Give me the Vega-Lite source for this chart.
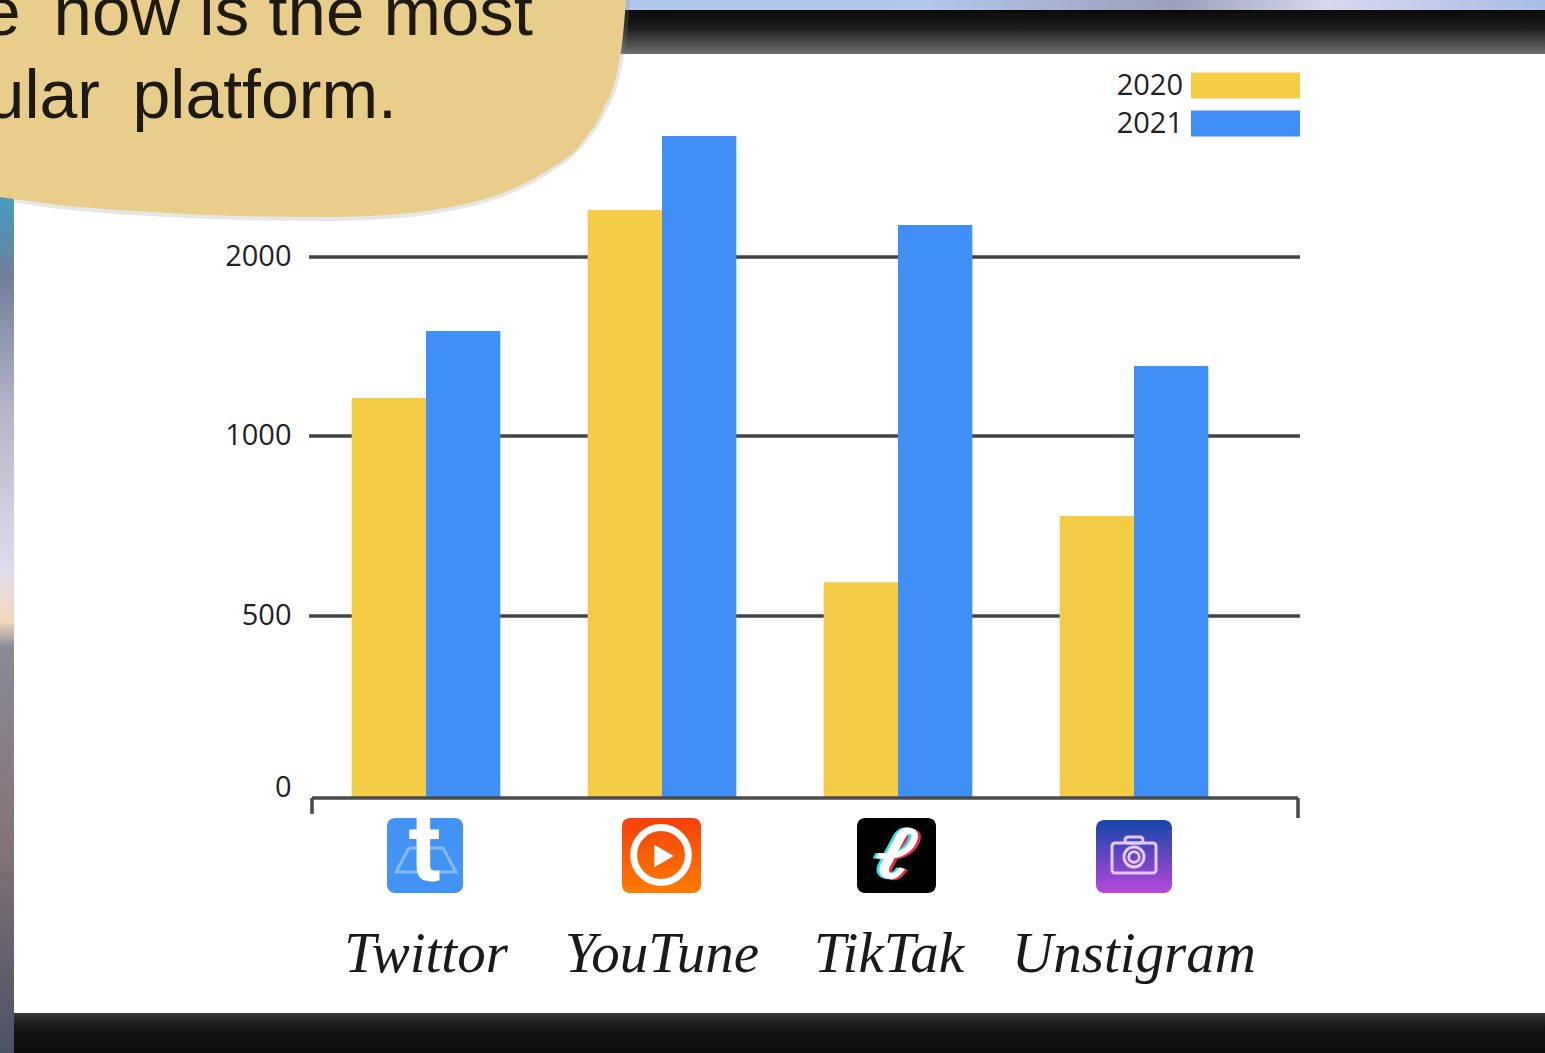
{
"$schema":"https://vega.github.io/schema/vega-lite/v6.json",
"width":1545,"height":1053,"autosize":{"type":"none"},"padding":0,"background":"#ffffff",
"config":{"view":{"stroke":null}},
"resolve":{"scale":{"x":"independent","y":"independent","color":"independent"}},
"layer":[
{"data":{"values":[{"a":0,"b":1545,"c":0,"d":12}]},
 "mark":{"type":"rect","fill":{"gradient":"linear","x1":0,"x2":1,"y1":0,"y2":0,"stops":[{"offset":0,"color":"#a8c4ec"},{"offset":0.6,"color":"#b4c6ea"},{"offset":0.76,"color":"#9aa0b8"},{"offset":0.86,"color":"#d8d8ee"},{"offset":1,"color":"#a8bce4"}]}},
 "encoding":{"x":{"field":"a","type":"quantitative","scale":{"domain":[0,1545],"range":[0,1545]},"axis":null},"x2":{"field":"b"},"y":{"field":"c","type":"quantitative","scale":{"domain":[0,1053],"range":[0,1053]},"axis":null},"y2":{"field":"d"}}},
{"data":{"values":[{"a":0,"b":1545,"c":10,"d":54}]},
 "mark":{"type":"rect","fill":{"gradient":"linear","x1":0,"x2":0,"y1":0,"y2":1,"stops":[{"offset":0,"color":"#0a0a0a"},{"offset":0.4,"color":"#1c1c1c"},{"offset":1,"color":"#6e6e6e"}]}},
 "encoding":{"x":{"field":"a","type":"quantitative","scale":{"domain":[0,1545],"range":[0,1545]},"axis":null},"x2":{"field":"b"},"y":{"field":"c","type":"quantitative","scale":{"domain":[0,1053],"range":[0,1053]},"axis":null},"y2":{"field":"d"}}},
{"data":{"values":[{"a":14,"b":1545,"c":1013,"d":1053}]},
 "mark":{"type":"rect","fill":{"gradient":"linear","x1":0,"x2":0,"y1":0,"y2":1,"stops":[{"offset":0,"color":"#3a3a3a"},{"offset":0.35,"color":"#161616"},{"offset":1,"color":"#0c0c0c"}]}},
 "encoding":{"x":{"field":"a","type":"quantitative","scale":{"domain":[0,1545],"range":[0,1545]},"axis":null},"x2":{"field":"b"},"y":{"field":"c","type":"quantitative","scale":{"domain":[0,1053],"range":[0,1053]},"axis":null},"y2":{"field":"d"}}},
{"data":{"values":[{"a":0,"b":14,"c":190,"d":1053}]},
 "mark":{"type":"rect","fill":{"gradient":"linear","x1":0,"x2":0,"y1":0,"y2":1,"stops":[{"offset":0,"color":"#3f9fc4"},{"offset":0.1,"color":"#6f7f9c"},{"offset":0.25,"color":"#b4b4c6"},{"offset":0.44,"color":"#dedcec"},{"offset":0.5,"color":"#f3d8bc"},{"offset":0.53,"color":"#8a8a96"},{"offset":0.75,"color":"#847478"},{"offset":1,"color":"#4c5264"}]}},
 "encoding":{"x":{"field":"a","type":"quantitative","scale":{"domain":[0,1545],"range":[0,1545]},"axis":null},"x2":{"field":"b"},"y":{"field":"c","type":"quantitative","scale":{"domain":[0,1053],"range":[0,1053]},"axis":null},"y2":{"field":"d"}}},
{"data":{"values":[{"a":0,"b":200,"c":0},{"a":60,"b":209,"c":0},{"a":150,"b":216,"c":0},{"a":240,"b":220,"c":0},{"a":330,"b":221,"c":0},{"a":400,"b":218,"c":0},{"a":450,"b":211,"c":0},{"a":500,"b":198,"c":0},{"a":545,"b":176,"c":0},{"a":580,"b":149,"c":0},{"a":605,"b":114,"c":0},{"a":620,"b":75,"c":0},{"a":627,"b":35,"c":0},{"a":630,"b":0,"c":0}]},
 "mark":{"type":"area","color":"#8c8c8c","opacity":0.22,"interpolate":"monotone"},
 "encoding":{"x":{"field":"a","type":"quantitative","scale":{"domain":[0,1545],"range":[0,1545]},"axis":null},"y":{"field":"b","type":"quantitative","scale":{"domain":[0,1053],"range":[0,1053]},"axis":null},"y2":{"field":"c"}}},
{"data":{"values":[{"tick":500,"a":309,"b":1300},{"tick":1000,"a":309,"b":1300},{"tick":2000,"a":309,"b":1300}]},
 "mark":{"type":"rule","color":"#444444","strokeWidth":3.5},
 "encoding":{"x":{"field":"a","type":"quantitative","scale":{"domain":[0,1545],"range":[0,1545]},"axis":null},"x2":{"field":"b"},"y":{"field":"tick","type":"quantitative","scale":{"domain":[0,500,1000,2000,3000],"range":[797,616,436,257,78]},"axis":null}}},
{"data":{"values":[
{"Platform":"Twittor","Year":"2020","Users":1212},{"Platform":"Twittor","Year":"2021","Users":1587},
{"Platform":"YouTune","Year":"2020","Users":2262},{"Platform":"YouTune","Year":"2021","Users":2676},
{"Platform":"TikTak","Year":"2020","Users":594},{"Platform":"TikTak","Year":"2021","Users":2179},
{"Platform":"Unstigram","Year":"2020","Users":778},{"Platform":"Unstigram","Year":"2021","Users":1391}]},
 "mark":{"type":"bar"},
 "encoding":{
  "x":{"field":"Platform","type":"nominal","title":null,"scale":{"domain":["Twittor","YouTune","TikTak","Unstigram"],"range":[308,1252],"paddingInner":0.37,"paddingOuter":0.185},
   "axis":{"orient":"bottom","offset":-256,"domain":false,"ticks":false,"labelAngle":0,"labelPadding":129,"labelFont":"Liberation Serif","labelFontStyle":"italic","labelFontSize":57,"labelColor":"#1a1a1a","labelLimit":400,
    "labelOffset":{"condition":{"test":"datum.value==='TikTak'","value":-9},"value":0}}},
  "xOffset":{"field":"Year","type":"nominal"},
  "y":{"field":"Users","type":"quantitative","title":null,"scale":{"domain":[0,500,1000,2000,3000],"range":[797,616,436,257,78]},
   "axis":{"orient":"left","values":[0,500,1000,2000],"format":"d","offset":-291,"domain":false,"ticks":false,"grid":false,"labelPadding":0,"labelFont":"Open Sans","labelFontSize":29,"labelColor":"#222222",
    "labelOffset":{"condition":{"test":"datum.value===0","value":-10},"value":-1}}},
  "color":{"field":"Year","type":"nominal","scale":{"domain":["2020","2021"],"range":["#F5CC45","#408FF7"]},
   "legend":{"title":null,"orient":"none","legendX":1231,"legendY":71,"symbolType":"M-10.9,-2.6H10.9V2.6H-10.9Z","symbolSize":100,"symbolStrokeWidth":0,"labelFont":"Open Sans","labelFontSize":29,"labelColor":"#222222","labelAlign":"right","labelOffset":-77,"rowPadding":8}}
 }},
{"data":{"values":[{"a":312,"b":1298,"c":798,"d":798},{"a":312,"b":312,"c":798,"d":814},{"a":1298,"b":1298,"c":798,"d":818}]},
 "mark":{"type":"rule","color":"#4a4a4a","strokeWidth":3.5},
 "encoding":{"x":{"field":"a","type":"quantitative","scale":{"domain":[0,1545],"range":[0,1545]},"axis":null},"x2":{"field":"b"},"y":{"field":"c","type":"quantitative","scale":{"domain":[0,1053],"range":[0,1053]},"axis":null},"y2":{"field":"d"}}},
{"data":{"values":[{"a":0,"b":197,"c":0},{"a":60,"b":205,"c":0},{"a":150,"b":212,"c":0},{"a":240,"b":216,"c":0},{"a":330,"b":217,"c":0},{"a":400,"b":214,"c":0},{"a":450,"b":207,"c":0},{"a":500,"b":194,"c":0},{"a":545,"b":172,"c":0},{"a":580,"b":145,"c":0},{"a":603,"b":110,"c":0},{"a":617,"b":72,"c":0},{"a":623,"b":35,"c":0},{"a":626,"b":0,"c":0}]},
 "mark":{"type":"area","color":"#E9CE8B","interpolate":"monotone"},
 "encoding":{"x":{"field":"a","type":"quantitative","scale":{"domain":[0,1545],"range":[0,1545]},"axis":null},"y":{"field":"b","type":"quantitative","scale":{"domain":[0,1053],"range":[0,1053]},"axis":null},"y2":{"field":"c"}}},
{"data":{"values":[{"t":"e\u00a0\u2009now is the most","a":533,"b":14,"fs":69},{"t":"ular\u00a0\u2009platform.","a":397,"b":98,"fs":68}]},
 "mark":{"type":"text","align":"right","baseline":"middle","font":"Liberation Sans","color":"#1e1a12"},
 "encoding":{"text":{"field":"t"},"size":{"field":"fs","type":"quantitative","scale":null},"x":{"field":"a","type":"quantitative","scale":{"domain":[0,1545],"range":[0,1545]},"axis":null},"y":{"field":"b","type":"quantitative","scale":{"domain":[0,1053],"range":[0,1053]},"axis":null}}},
{"data":{"values":[{"a":387,"b":463,"c":818,"d":893}]},
 "mark":{"type":"rect","fill":"#4393F5","cornerRadius":8},
 "encoding":{"x":{"field":"a","type":"quantitative","scale":{"domain":[0,1545],"range":[0,1545]},"axis":null},"x2":{"field":"b"},"y":{"field":"c","type":"quantitative","scale":{"domain":[0,1053],"range":[0,1053]},"axis":null},"y2":{"field":"d"}}},
{"data":{"values":[{"o":1,"a":409,"b":848},{"o":2,"a":443,"b":848},{"o":3,"a":456,"b":872},{"o":4,"a":396,"b":872},{"o":5,"a":409,"b":848}]},
 "mark":{"type":"line","color":"#86BAF9","strokeWidth":3},
 "encoding":{"order":{"field":"o","type":"quantitative"},"x":{"field":"a","type":"quantitative","scale":{"domain":[0,1545],"range":[0,1545]},"axis":null},"y":{"field":"b","type":"quantitative","scale":{"domain":[0,1053],"range":[0,1053]},"axis":null}}},
{"data":{"values":[{"t":"t","a":425,"b":851}]},
 "mark":{"type":"text","align":"center","baseline":"middle","font":"Roboto","fontWeight":"bold","fontSize":96,"color":"#ffffff"},
 "encoding":{"text":{"field":"t"},"x":{"field":"a","type":"quantitative","scale":{"domain":[0,1545],"range":[0,1545]},"axis":null},"y":{"field":"b","type":"quantitative","scale":{"domain":[0,1053],"range":[0,1053]},"axis":null}}},
{"data":{"values":[{"a":622,"b":701,"c":818,"d":893}]},
 "mark":{"type":"rect","cornerRadius":8,"fill":{"gradient":"linear","x1":0,"x2":0,"y1":0,"y2":1,"stops":[{"offset":0,"color":"#F5400A"},{"offset":1,"color":"#FF7C02"}]}},
 "encoding":{"x":{"field":"a","type":"quantitative","scale":{"domain":[0,1545],"range":[0,1545]},"axis":null},"x2":{"field":"b"},"y":{"field":"c","type":"quantitative","scale":{"domain":[0,1053],"range":[0,1053]},"axis":null},"y2":{"field":"d"}}},
{"data":{"values":[{"a":661,"b":855}]},
 "mark":{"type":"point","shape":"circle","size":3000,"filled":false,"color":"#ffffff","strokeWidth":7,"opacity":1},
 "encoding":{"x":{"field":"a","type":"quantitative","scale":{"domain":[0,1545],"range":[0,1545]},"axis":null},"y":{"field":"b","type":"quantitative","scale":{"domain":[0,1053],"range":[0,1053]},"axis":null}}},
{"data":{"values":[{"a":664,"b":856}]},
 "mark":{"type":"point","shape":"triangle-right","size":500,"filled":true,"color":"#ffffff","opacity":1},
 "encoding":{"x":{"field":"a","type":"quantitative","scale":{"domain":[0,1545],"range":[0,1545]},"axis":null},"y":{"field":"b","type":"quantitative","scale":{"domain":[0,1053],"range":[0,1053]},"axis":null}}},
{"data":{"values":[{"a":857,"b":936,"c":818,"d":893}]},
 "mark":{"type":"rect","fill":"#000000","cornerRadius":8},
 "encoding":{"x":{"field":"a","type":"quantitative","scale":{"domain":[0,1545],"range":[0,1545]},"axis":null},"x2":{"field":"b"},"y":{"field":"c","type":"quantitative","scale":{"domain":[0,1053],"range":[0,1053]},"axis":null},"y2":{"field":"d"}}},
{"data":{"values":[{"t":"ℓ","a":899,"b":856,"k":"#e0304a"},{"t":"ℓ","a":893,"b":855,"k":"#35e0e0"},{"t":"ℓ","a":896,"b":855,"k":"#ffffff"}]},
 "mark":{"type":"text","align":"center","baseline":"middle","font":"DejaVu Serif","fontWeight":"bold","fontStyle":"italic","fontSize":78,"angle":18,"strokeWidth":3},
 "encoding":{"text":{"field":"t"},"color":{"field":"k","type":"nominal","scale":null},"stroke":{"field":"k","type":"nominal","scale":null},"x":{"field":"a","type":"quantitative","scale":{"domain":[0,1545],"range":[0,1545]},"axis":null},"y":{"field":"b","type":"quantitative","scale":{"domain":[0,1053],"range":[0,1053]},"axis":null}}},
{"data":{"values":[{"a":1096,"b":1172,"c":820,"d":893}]},
 "mark":{"type":"rect","cornerRadius":8,"fill":{"gradient":"linear","x1":0,"x2":0,"y1":0,"y2":1,"stops":[{"offset":0,"color":"#1446A8"},{"offset":1,"color":"#B648DC"}]}},
 "encoding":{"x":{"field":"a","type":"quantitative","scale":{"domain":[0,1545],"range":[0,1545]},"axis":null},"x2":{"field":"b"},"y":{"field":"c","type":"quantitative","scale":{"domain":[0,1053],"range":[0,1053]},"axis":null},"y2":{"field":"d"}}},
{"data":{"values":[{"a":1112,"b":1156,"c":843,"d":873},{"a":1125,"b":1143,"c":837,"d":843}]},
 "mark":{"type":"rect","fillOpacity":0,"stroke":"#E6C8F5","strokeWidth":3,"cornerRadius":3},
 "encoding":{"x":{"field":"a","type":"quantitative","scale":{"domain":[0,1545],"range":[0,1545]},"axis":null},"x2":{"field":"b"},"y":{"field":"c","type":"quantitative","scale":{"domain":[0,1053],"range":[0,1053]},"axis":null},"y2":{"field":"d"}}},
{"data":{"values":[{"a":1134,"b":857,"s":400},{"a":1134,"b":857,"s":110}]},
 "mark":{"type":"point","shape":"circle","filled":false,"color":"#E6C8F5","strokeWidth":3,"opacity":1},
 "encoding":{"size":{"field":"s","type":"quantitative","scale":null},"x":{"field":"a","type":"quantitative","scale":{"domain":[0,1545],"range":[0,1545]},"axis":null},"y":{"field":"b","type":"quantitative","scale":{"domain":[0,1053],"range":[0,1053]},"axis":null}}}
]}
